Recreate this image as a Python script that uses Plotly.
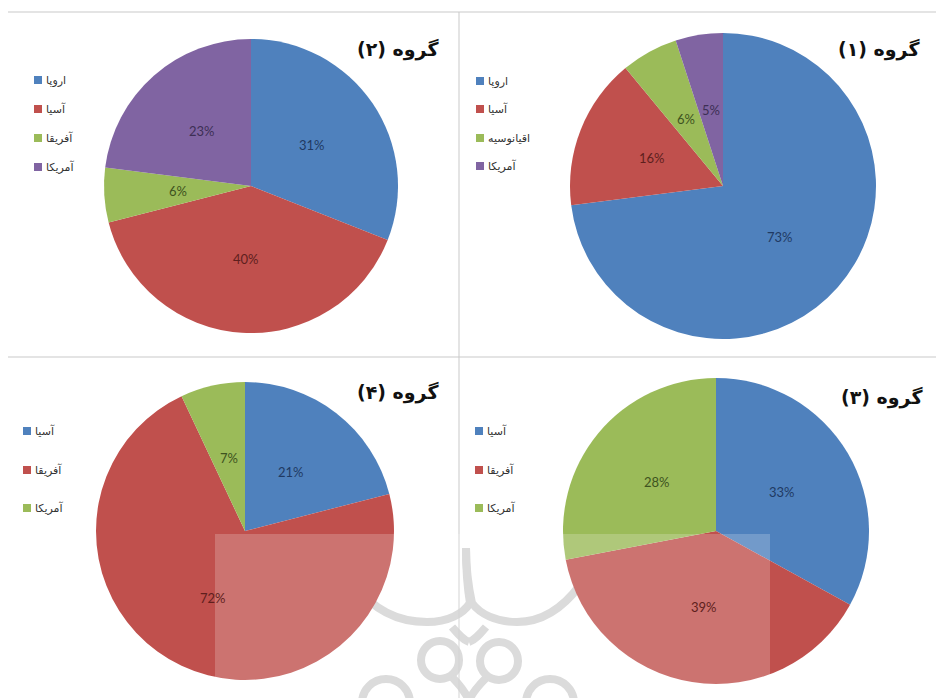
import math
import plotly.graph_objects as go

W, H = 936, 698

# ---- data ----
g1_labels = ["اروپا", "آسیا", "اقیانوسیه", "آمریکا"]
g1_values = [73, 16, 6, 5]
g2_labels = ["اروپا", "آسیا", "آفریقا", "آمریکا"]
g2_values = [31, 40, 6, 23]
g3_labels = ["آسیا", "آفریقا", "آمریکا"]
g3_values = [33, 39, 28]
g4_labels = ["آسیا", "آفریقا", "آمریکا"]
g4_values = [21, 72, 7]
titles = ["گروه (۱)", "گروه (۲)", "گروه (۳)", "گروه (۴)"]

BLUE, RED, GREEN, PURPLE = "#4F81BD", "#C0504D", "#9BBB59", "#8064A2"
DBLUE, DRED, DGREEN, DPURPLE = "#1F3A63", "#5E1F1D", "#3E5320", "#3D2F55"


def px(x):
    return x / W


def py(y):
    return 1 - y / H


panels = [
    dict(labels=g1_labels, values=g1_values, colors=[BLUE, RED, GREEN, PURPLE],
         tcol=[DBLUE, DRED, DGREEN, DPURPLE], c=(723, 186), r=153,
         title=titles[0], tpos=(922, 50), lx=476, ly=[81, 109, 138, 166]),
    dict(labels=g2_labels, values=g2_values, colors=[BLUE, RED, GREEN, PURPLE],
         tcol=[DBLUE, DRED, DGREEN, DPURPLE], c=(251, 186), r=147,
         title=titles[1], tpos=(441, 50), lx=34, ly=[80, 109, 138, 167]),
    dict(labels=g3_labels, values=g3_values, colors=[BLUE, RED, GREEN],
         tcol=[DBLUE, DRED, DGREEN], c=(716, 531), r=153,
         title=titles[2], tpos=(925, 397), lx=475, ly=[431, 470, 508]),
    dict(labels=g4_labels, values=g4_values, colors=[BLUE, RED, GREEN],
         tcol=[DBLUE, DRED, DGREEN], c=(245, 531), r=149,
         title=titles[3], tpos=(441, 392), lx=23, ly=[431, 470, 508]),
]

fig = go.Figure()
shapes = []
annotations = []

for p in panels:
    cx, cy = p["c"]
    r = p["r"]
    fig.add_trace(go.Pie(
        labels=p["labels"], values=p["values"], sort=False, direction="clockwise",
        rotation=0, marker=dict(colors=p["colors"], line=dict(width=0)),
        textinfo="none",
        domain=dict(x=[px(cx - r), px(cx + r)], y=[py(cy + r), py(cy - r)]),
        showlegend=False, hoverinfo="label+percent",
    ))
    # data labels at half radius along each slice's mid-angle (Excel style)
    total = float(sum(p["values"]))
    cum = 0.0
    for v, tc in zip(p["values"], p["tcol"]):
        th = 2 * math.pi * (cum + v / 2.0) / total
        cum += v
        lx_ = cx + math.sin(th) * 0.5 * r
        ly_ = cy - math.cos(th) * 0.5 * r
        annotations.append(dict(
            text="%d%%" % v, x=px(lx_), y=py(ly_), xref="paper", yref="paper",
            xanchor="center", yanchor="middle", showarrow=False,
            font=dict(family="Lato, Open Sans, sans-serif", size=13, color=tc),
        ))
    tx, ty = p["tpos"]
    annotations.append(dict(
        text="<b>%s</b>" % p["title"], x=px(tx), y=py(ty), xref="paper", yref="paper",
        xanchor="right", yanchor="middle", showarrow=False,
        font=dict(family="DejaVu Sans", size=19, color="#111111"),
    ))
    for lab, col, yy in zip(p["labels"], p["colors"], p["ly"]):
        shapes.append(dict(type="rect", xref="paper", yref="paper",
                           x0=px(p["lx"]), x1=px(p["lx"] + 8),
                           y0=py(yy + 4), y1=py(yy - 4),
                           fillcolor=col, line=dict(width=0)))
        annotations.append(dict(
            text=lab, x=px(p["lx"] + 10), y=py(yy), xref="paper", yref="paper",
            xanchor="left", yanchor="middle", showarrow=False,
            font=dict(family="DejaVu Sans", size=11, color="#333333"),
        ))

GRID = "#c9c9c9"
shapes += [
    dict(type="line", xref="paper", yref="paper", x0=px(8), x1=1, y0=py(12), y1=py(12),
         line=dict(color=GRID, width=1)),
    dict(type="line", xref="paper", yref="paper", x0=px(8), x1=1, y0=py(357), y1=py(357),
         line=dict(color=GRID, width=1)),
]

# watermark logo (approximation, beneath the pies)
WM = "#d2d2d2"


def bez(points, w=8):
    (x0, y0) = points[0]
    s = "M %.5f,%.5f" % (px(x0), py(y0))
    rest = points[1:]
    for i in range(0, len(rest), 3):
        s += " C " + " ".join("%.5f,%.5f" % (px(a), py(b)) for a, b in rest[i:i + 3])
    return dict(type="path", xref="paper", yref="paper", layer="below", path=s,
                line=dict(color=WM, width=w))


def circ(cx, cy, r):
    return dict(type="circle", xref="paper", yref="paper", layer="below",
                x0=px(cx - r), x1=px(cx + r), y0=py(cy + r), y1=py(cy - r),
                line=dict(color=WM, width=8))


shapes += [
    bez([(355, 585), (375, 612), (400, 622), (427, 622),
         (448, 622), (463, 614), (470, 603),
         (467, 585), (466, 565), (466, 548)]),
    bez([(580, 585), (560, 612), (538, 622), (517, 622),
         (496, 622), (480, 614), (472, 603),
         (468, 585), (466, 565), (466, 548)]),
    circ(440, 660, 19), circ(499, 661, 19),
    circ(386, 703, 24), circ(550, 703, 24),
    bez([(452, 627), (458, 634), (463, 640), (469, 642)]),
    bez([(486, 627), (480, 634), (475, 640), (469, 642)]),
    bez([(452, 677), (460, 685), (465, 692), (469, 700)]),
    bez([(486, 678), (478, 686), (473, 692), (469, 700)]),
]

shapes.append(dict(type="line", xref="paper", yref="paper", x0=px(459), x1=px(459),
                   y0=py(12), y1=0, line=dict(color=GRID, width=1)))

# translucent white overlay
shapes.append(dict(type="rect", xref="paper", yref="paper", layer="above",
                   x0=px(215), x1=px(770), y0=0, y1=py(534),
                   fillcolor="rgba(255,255,255,0.2)", line=dict(width=0)))

fig.update_layout(
    width=W, height=H, margin=dict(l=0, r=0, t=0, b=0),
    paper_bgcolor="white", plot_bgcolor="white",
    shapes=shapes, annotations=annotations,
)

fig.write_html("out.html")
